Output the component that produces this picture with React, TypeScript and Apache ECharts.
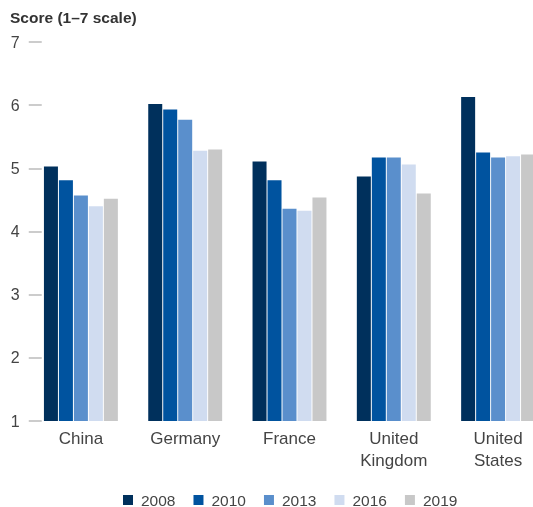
import React, { useEffect, useRef } from "react";
import * as echarts from "echarts";

const categories = ["China", "Germany", "France", "United\nKingdom", "United\nStates"];
const years = ["2008", "2010", "2013", "2016", "2019"];
const s2008 = [5.03, 6.02, 5.11, 4.87, 6.13];
const s2010 = [4.81, 5.93, 4.81, 5.17, 5.25];
const s2013 = [4.57, 5.77, 4.36, 5.17, 5.17];
const s2016 = [4.4, 5.28, 4.33, 5.06, 5.19];
const s2019 = [4.52, 5.3, 4.54, 4.6, 5.22];
const seriesValues = [s2008, s2010, s2013, s2016, s2019];
const colors = ["#00305c", "#00539f", "#5a8fcc", "#d0dcf0", "#c8c8c8"];
const yTicks = [1, 2, 3, 4, 5, 6, 7];

export default function App() {
  const ref = useRef<HTMLDivElement>(null);
  useEffect(() => {
    if (!ref.current) return;
    const chart = echarts.init(ref.current, undefined, { renderer: "svg" });
    const font = "'Liberation Sans', Arial, Helvetica, sans-serif";
    chart.setOption({
      animation: false,
      textStyle: { fontFamily: font },
      title: {
        text: "Score (1–7 scale)",
        left: 5,
        top: 4,
        textStyle: { fontFamily: font, fontSize: 15.5, fontWeight: "bold", color: "#333" },
      },
      legend: {
        data: years,
        left: 118,
        top: 487,
        itemWidth: 10,
        itemHeight: 10,
        itemGap: 18,
        icon: "rect",
        textStyle: { fontFamily: font, fontSize: 15.5, color: "#444", padding: [0, 0, 0, 3] },
      },
      grid: {
        left: 28.75,
        width: 521.5,
        top: 42,
        bottom: 86,
        containLabel: false,
        outerBoundsMode: "none",
      },
      xAxis: {
        type: "category",
        data: categories,
        axisLine: { show: false },
        axisTick: { show: false },
        axisLabel: {
          fontFamily: font,
          fontSize: 17,
          color: "#444",
          margin: 6,
          lineHeight: 22,
          interval: 0,
        },
      },
      yAxis: {
        type: "value",
        min: yTicks[0],
        max: yTicks[yTicks.length - 1],
        interval: 1,
        axisLine: { show: false },
        axisTick: { show: true, inside: true, length: 13, lineStyle: { color: "#cccccc", width: 2 } },
        splitLine: { show: false },
        axisLabel: { fontFamily: font, fontSize: 16, color: "#444", margin: 9 },
      },
      series: years.map((y, i) => ({
        name: y,
        type: "bar",
        data: seriesValues[i],
        barWidth: 14,
        barGap: "7%",
        itemStyle: { color: colors[i] },
      })),
    });
    return () => chart.dispose();
  }, []);
  return <div ref={ref} style={{ position: "fixed", left: 0, top: 0, width: 533, height: 507 }} />;
}
